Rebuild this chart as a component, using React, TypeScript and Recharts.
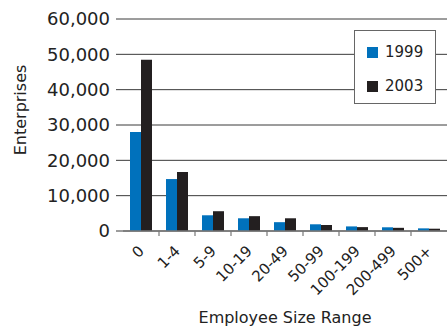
import React from 'react';
import { BarChart, Bar, XAxis, YAxis, CartesianGrid, Label } from 'recharts';

const sizeRanges = ['0', '1-4', '5-9', '10-19', '20-49', '50-99', '100-199', '200-499', '500+'];
const enterprises1999 = [28000, 14700, 4450, 3600, 2500, 1900, 1300, 1050, 750];
const enterprises2003 = [48450, 16700, 5600, 4200, 3600, 1700, 1100, 900, 650];
const yTicks = [0, 10000, 20000, 30000, 40000, 50000, 60000];

const BLUE = '#0071bc';
const DARK = '#231f20';
const FONT = '"DejaVu Sans", sans-serif';

const series = [
  { key: 'y1999', name: '1999', color: BLUE },
  { key: 'y2003', name: '2003', color: DARK },
];

const data = sizeRanges.map((range, i) => ({
  range,
  y1999: enterprises1999[i],
  y2003: enterprises2003[i],
}));

// rotated category label plus a tick mark on the left band edge
const SizeTick = (props: any) => {
  const { x, y, payload, index } = props;
  const half = payload?.offset ?? 18;
  return (
    <g>
      {index > 0 && (
        <line x1={x - half} x2={x - half} y1={y - 8} y2={y - 3} stroke="#777" strokeWidth={1.2} />
      )}
      <text
        x={x + 4}
        y={y + 13}
        textAnchor="end"
        transform={`rotate(-45 ${x + 4} ${y + 13})`}
        fontFamily={FONT}
        fontSize={15}
        fill="#222"
      >
        {payload.value}
      </text>
    </g>
  );
};

// boxed legend drawn over the upper right of the plot
const LegendBox = () => (
  <div
    style={{
      position: 'absolute',
      left: 354,
      top: 30,
      width: 80,
      height: 72,
      background: '#fff',
      border: '1.5px solid #666',
      fontFamily: FONT,
      fontSize: 15,
      color: '#222',
    }}
  >
    {series.map((item, i) => (
      <div
        key={item.name}
        style={{ display: 'flex', alignItems: 'center', marginLeft: 12, marginTop: i === 0 ? 12 : 16, lineHeight: '18px' }}
      >
        <span style={{ width: 11, height: 11, background: item.color, display: 'inline-block', marginRight: 7 }} />
        <span>{item.name}</span>
      </div>
    ))}
  </div>
);

export default function App() {
  return (
    <div style={{ position: 'absolute', left: 0, top: 0, width: 447, height: 328, background: '#fff' }}>
      <BarChart
        width={447}
        height={328}
        data={data}
        margin={{ top: 19, right: 0, left: 0, bottom: 0 }}
        barCategoryGap={7}
        barGap={0}
      >
        <CartesianGrid vertical={false} stroke="#3a3a3a" strokeWidth={1} />
        <XAxis
          dataKey="range"
          height={97}
          interval={0}
          tickLine={false}
          axisLine={{ stroke: '#777', strokeWidth: 1.5 }}
          tick={<SizeTick />}
        >
          <Label
            value="Employee Size Range"
            position="insideBottom"
            offset={5}
            style={{ fontFamily: FONT, fontSize: 16, fill: '#222' }}
          />
        </XAxis>
        <YAxis
          width={123}
          domain={[0, 60000]}
          ticks={yTicks}
          interval={0}
          axisLine={false}
          tickLine={{ stroke: '#3a3a3a' }}
          tickSize={7}
          tickMargin={6}
          tickFormatter={(v: number) => v.toLocaleString('en-US')}
          tick={{ fontFamily: FONT, fontSize: 18, fill: '#222' }}
        >
          <Label
            content={() => (
              <text
                x={26}
                y={110}
                transform="rotate(-90 26 110)"
                textAnchor="middle"
                fontFamily={FONT}
                fontSize={16}
                fill="#222"
              >
                Enterprises
              </text>
            )}
          />
        </YAxis>
        {series.map((s) => (
          <Bar key={s.key} dataKey={s.key} name={s.name} fill={s.color} isAnimationActive={false} />
        ))}
      </BarChart>
      <LegendBox />
    </div>
  );
}
